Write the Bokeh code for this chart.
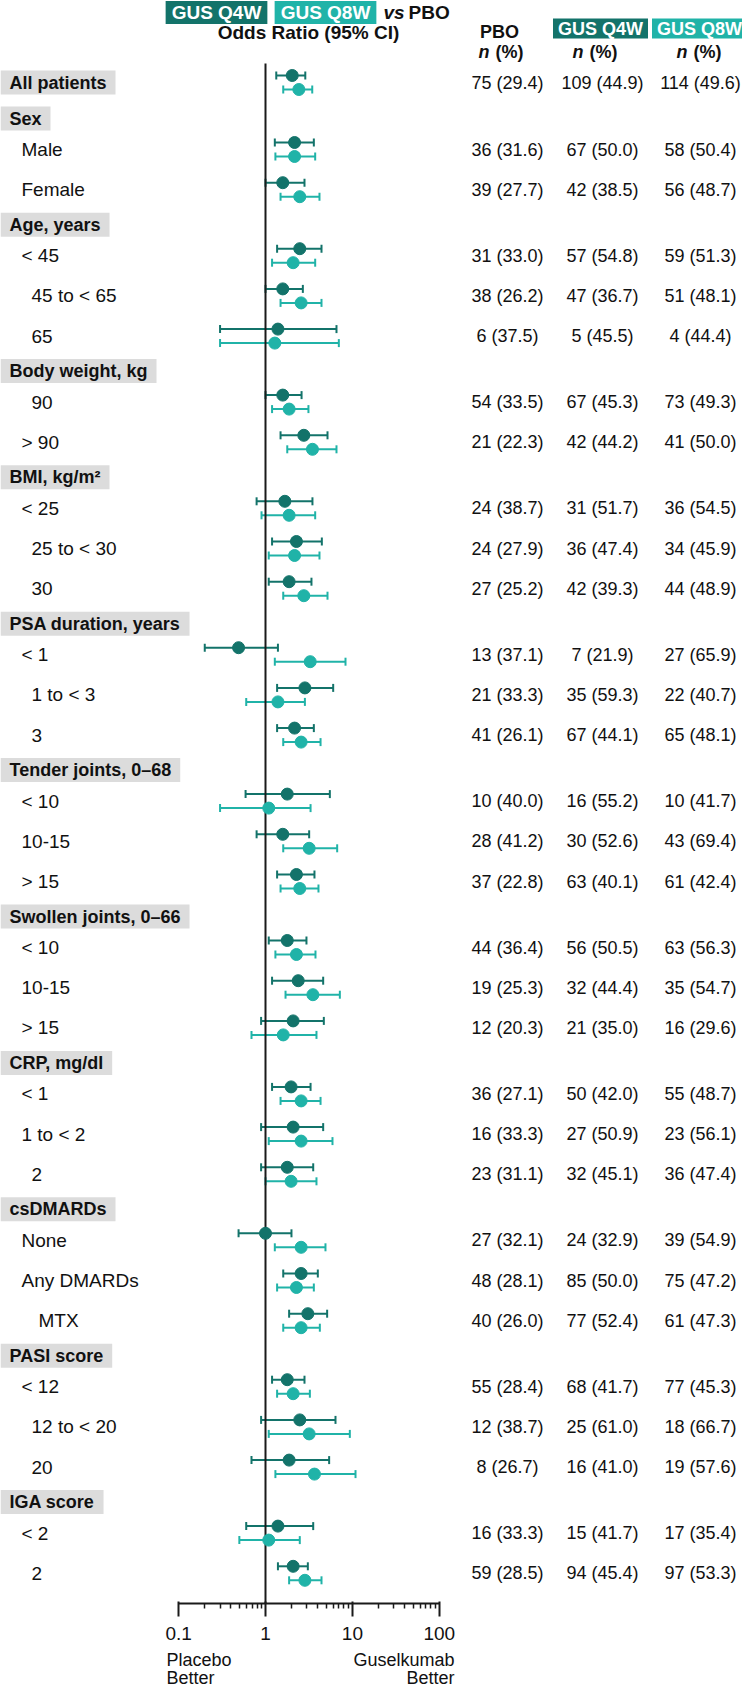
from bokeh.plotting import figure
from bokeh.models import (ColumnDataSource, Range1d, LogScale, LogAxis, FixedTicker,
                          CustomJSTickFormatter, Whisker, TeeHead)
from bokeh.core.properties import value
from bokeh.embed import file_html
from bokeh.resources import INLINE

# ---------------- data ----------------
row_labels = ["All patients", "Sex", "Male", "Female", "Age, years", "< 45", "45 to < 65", "65",
              "Body weight, kg", "90", "> 90", "BMI, kg/m²", "< 25", "25 to < 30", "30",
              "PSA duration, years", "< 1", "1 to < 3", "3", "Tender joints, 0–68", "< 10", "10-15", "> 15",
              "Swollen joints, 0–66", "< 10", "10-15", "> 15", "CRP, mg/dl", "< 1", "1 to < 2", "2",
              "csDMARDs", "None", "Any DMARDs", "MTX", "PASI score", "< 12", "12 to < 20", "20",
              "IGA score", "< 2", "2"]
# A = overall (header with data), H = group header, S = subgroup
row_kind = ["A", "H", "S", "S", "H", "S", "S", "S", "H", "S", "S", "H", "S", "S", "S",
            "H", "S", "S", "S", "H", "S", "S", "S", "H", "S", "S", "S", "H", "S", "S", "S",
            "H", "S", "S", "S", "H", "S", "S", "S", "H", "S", "S"]
row_indent = [0, 0, 1, 1, 0, 1, 2, 2, 0, 2, 1, 0, 1, 2, 2, 0, 1, 2, 2, 0, 1, 1, 1,
              0, 1, 1, 1, 0, 1, 1, 2, 0, 1, 1, 3, 0, 1, 2, 2, 0, 1, 2]

q4w_or = [2.03, 2.16, 1.58, 2.48, 1.58, 1.39, 1.58, 2.76, 1.67, 2.27, 1.87, 0.49, 2.84, 2.16,
          1.78, 1.58, 2.27, 1.78, 2.38, 2.08, 1.97, 2.08, 1.78, 1.00, 2.57, 3.07, 1.78, 2.48, 1.87, 1.39, 2.08]
q4w_lo = [1.33, 1.28, 1.00, 1.36, 1.00, 0.30, 1.00, 1.49, 0.79, 1.19, 1.09, 0.20, 1.36, 1.36,
          0.59, 0.79, 1.36, 1.09, 1.19, 0.89, 1.19, 0.89, 0.89, 0.49, 1.60, 1.87, 1.19, 0.89, 0.69, 0.60, 1.39]
q4w_hi = [2.87, 3.60, 2.81, 4.41, 2.69, 6.56, 2.60, 5.17, 3.47, 4.45, 3.38, 1.39, 6.01, 3.60,
          5.50, 3.18, 3.66, 2.96, 4.61, 4.69, 3.30, 4.61, 3.54, 1.99, 4.00, 5.12, 2.81, 6.39, 5.40, 3.54, 3.07]
q8w_or = [2.42, 2.16, 2.48, 2.08, 2.57, 1.28, 1.87, 3.47, 1.87, 2.16, 2.76, 3.27, 1.39, 2.57,
          1.09, 3.18, 2.48, 2.27, 3.51, 1.60, 2.57, 2.57, 1.97, 2.57, 2.27, 2.57, 2.08, 3.18, 3.66, 1.09, 2.84]
q8w_lo = [1.60, 1.30, 1.49, 1.19, 1.49, 0.30, 1.19, 1.78, 0.90, 1.09, 1.60, 1.28, 0.60, 1.60,
          0.30, 1.60, 1.49, 1.30, 1.70, 0.69, 1.49, 1.09, 1.00, 1.28, 1.36, 1.60, 1.36, 1.09, 1.30, 0.50, 1.87]
q8w_hi = [3.45, 3.73, 4.18, 3.73, 4.41, 6.98, 3.12, 6.56, 3.73, 4.18, 5.17, 8.33, 2.84, 4.30,
          3.30, 6.68, 4.07, 3.76, 7.17, 3.86, 4.30, 5.90, 3.86, 4.90, 3.60, 4.22, 3.24, 9.34, 10.86, 2.48, 4.41]

pbo_n = [75, 36, 39, 31, 38, 6, 54, 21, 24, 24, 27, 13, 21, 41, 10, 28, 37, 44, 19, 12, 36, 16, 23, 27, 48, 40, 55, 12, 8, 16, 59]
pbo_pct = [29.4, 31.6, 27.7, 33.0, 26.2, 37.5, 33.5, 22.3, 38.7, 27.9, 25.2, 37.1, 33.3, 26.1, 40.0, 41.2, 22.8,
           36.4, 25.3, 20.3, 27.1, 33.3, 31.1, 32.1, 28.1, 26.0, 28.4, 38.7, 26.7, 33.3, 28.5]
q4w_n = [109, 67, 42, 57, 47, 5, 67, 42, 31, 36, 42, 7, 35, 67, 16, 30, 63, 56, 32, 21, 50, 27, 32, 24, 85, 77, 68, 25, 16, 15, 94]
q4w_pct = [44.9, 50.0, 38.5, 54.8, 36.7, 45.5, 45.3, 44.2, 51.7, 47.4, 39.3, 21.9, 59.3, 44.1, 55.2, 52.6, 40.1,
           50.5, 44.4, 35.0, 42.0, 50.9, 45.1, 32.9, 50.0, 52.4, 41.7, 61.0, 41.0, 41.7, 45.4]
q8w_n = [114, 58, 56, 59, 51, 4, 73, 41, 36, 34, 44, 27, 22, 65, 10, 43, 61, 63, 35, 16, 55, 23, 36, 39, 75, 61, 77, 18, 19, 17, 97]
q8w_pct = [49.6, 50.4, 48.7, 51.3, 48.1, 44.4, 49.3, 50.0, 54.5, 45.9, 48.9, 65.9, 40.7, 48.1, 41.7, 69.4, 42.4,
           56.3, 54.7, 29.6, 48.7, 56.1, 47.4, 54.9, 47.2, 47.3, 45.3, 66.7, 57.6, 35.4, 53.3]

axis_ticks = [0.1, 1, 10, 100]

# ---------------- styles ----------------
C4 = "#13736a"
C8 = "#20b3a8"
GREY = "#dcdcdc"
INK = "#111111"
FONT = value("Liberation Sans")
W, H = 742, 1687
AXIS_Y = 1603
X1 = 265.0      # screen x of OR = 1
DEC = 86.9      # pixels per decade

# ---------------- layout of rows ----------------
ys = []
y = 82.0
prev = None
for k in row_kind:
    if prev is not None:
        if prev in "HA" and k in "HA":
            y += 36
        elif prev in "HA":
            y += 31
        elif k == "S":
            y += 40.2
        else:
            y += 35
    ys.append(y)
    prev = k

indent_x = {0: 0, 1: 21, 2: 31, 3: 38}
hdr = dict(x=[], y=[], t=[])
sub = dict(x=[], y=[], t=[])
data_y = []
for lab, k, ind, yy in zip(row_labels, row_kind, row_indent, ys):
    if k in "HA":
        hdr["x"].append(indent_x[ind]); hdr["y"].append(yy); hdr["t"].append(lab)
    else:
        sub["x"].append(indent_x[ind]); sub["y"].append(yy); sub["t"].append(lab)
    if k in "AS":
        data_y.append(yy)

p = figure(width=W, height=H, output_backend="svg", toolbar_location=None,
           x_range=Range1d(0, W), y_range=Range1d(H, 0),
           x_axis_location=None, y_axis_location=None, min_border=0)
p.outline_line_color = None
p.xgrid.visible = False
p.ygrid.visible = False
p.background_fill_color = "white"
p.border_fill_color = "white"

p.extra_x_ranges = {"or": Range1d(10 ** (-X1 / DEC), 10 ** ((W - X1) / DEC))}
p.extra_x_scales = {"or": LogScale()}

# axis drawn inside the frame at a fixed location
minor = [m * 10.0 ** e for e in (-1, 0, 1) for m in range(2, 10)]
ax = LogAxis(x_range_name="or", ticker=FixedTicker(ticks=axis_ticks, minor_ticks=minor),
             formatter=CustomJSTickFormatter(code="return String(tick);"),
             bounds=(0.1, 100), fixed_location=AXIS_Y)
ax.axis_line_width = 2
ax.axis_line_color = "#1a1a1a"
ax.major_tick_line_width = 2
ax.major_tick_line_color = "#1a1a1a"
ax.major_tick_out = 13
ax.major_tick_in = 2
ax.minor_tick_out = 5
ax.minor_tick_in = 0
ax.minor_tick_line_width = 1.5
ax.minor_tick_line_color = "#1a1a1a"
ax.major_label_text_font = "Liberation Sans"
ax.major_label_text_font_size = "19px"
ax.major_label_text_color = INK
ax.major_label_standoff = 10
p.add_layout(ax, "below")

# reference line at OR = 1
p.segment(x0=[1], x1=[1], y0=[63], y1=[AXIS_Y], x_range_name="or",
          line_color="#1a1a1a", line_width=2)

# group header labels with grey boxes
p.text(x="x", y="y", text="t", source=ColumnDataSource(hdr), text_font=FONT,
       text_font_style="bold", text_font_size="18px", text_color=INK,
       text_baseline="middle", text_align="left",
       background_fill_color=GREY, padding=dict(left=9, right=9, top=2, bottom=2))
# subgroup labels
p.text(x="x", y="y", text="t", source=ColumnDataSource(sub), text_font=FONT,
       text_font_size="19px", text_color=INK, text_baseline="middle", text_align="left")

# forest data
src4 = ColumnDataSource(dict(y=[v - 7 for v in data_y], est=q4w_or, lo=q4w_lo, hi=q4w_hi))
src8 = ColumnDataSource(dict(y=[v + 7 for v in data_y], est=q8w_or, lo=q8w_lo, hi=q8w_hi))
for src, col in ((src4, C4), (src8, C8)):
    wk = Whisker(source=src, base="y", lower="lo", upper="hi", dimension="width",
                 x_range_name="or", line_color=col, line_width=2,
                 lower_head=TeeHead(size=8, line_color=col, line_width=2),
                 upper_head=TeeHead(size=8, line_color=col, line_width=2))
    p.add_layout(wk)
    p.scatter(x="est", y="y", source=src, x_range_name="or", size=12,
              fill_color=col, line_color=col)

# table
col_x = [507, 602, 700]
tbl = dict(y=data_y,
           pbo=[f"{n} ({v:.1f})" for n, v in zip(pbo_n, pbo_pct)],
           q4=[f"{n} ({v:.1f})" for n, v in zip(q4w_n, q4w_pct)],
           q8=[f"{n} ({v:.1f})" for n, v in zip(q8w_n, q8w_pct)])
tsrc = ColumnDataSource(tbl)
for cx, field in zip(col_x, ["pbo", "q4", "q8"]):
    p.text(x=cx, y="y", text=field, source=tsrc, text_font=FONT, text_font_size="18px",
           text_color=INK, text_baseline="middle", text_align="center")

# top header (forest)
p.text(x=[216], y=[12], text=["GUS Q4W"], text_font=FONT, text_font_style="bold",
       text_font_size="19px", text_color="white", text_align="center", text_baseline="middle",
       background_fill_color=C4, padding=dict(left=6, right=6, top=1, bottom=1))
p.text(x=[325], y=[12], text=["GUS Q8W"], text_font=FONT, text_font_style="bold",
       text_font_size="19px", text_color="white", text_align="center", text_baseline="middle",
       background_fill_color=C8, padding=dict(left=6, right=6, top=1, bottom=1))
p.text(x=[383], y=[12], text=["vs"], text_font=FONT, text_font_style="bold italic",
       text_font_size="19px", text_color=INK, text_baseline="middle")
p.text(x=[408], y=[12], text=["PBO"], text_font=FONT, text_font_style="bold",
       text_font_size="19px", text_color=INK, text_baseline="middle")
p.text(x=[308], y=[32], text=["Odds Ratio (95% CI)"], text_font=FONT, text_font_style="bold",
       text_font_size="19px", text_color=INK, text_baseline="middle", text_align="center")

# table headers
p.text(x=[499], y=[31], text=["PBO"], text_font=FONT, text_font_style="bold",
       text_font_size="18px", text_color=INK, text_baseline="middle", text_align="center")
p.text(x=[600], y=[28], text=["GUS Q4W"], text_font=FONT, text_font_style="bold",
       text_font_size="18px", text_color="white", text_align="center", text_baseline="middle",
       background_fill_color=C4, padding=dict(left=5, right=5, top=0, bottom=0))
p.text(x=[699], y=[28], text=["GUS Q8W"], text_font=FONT, text_font_style="bold",
       text_font_size="18px", text_color="white", text_align="center", text_baseline="middle",
       background_fill_color=C8, padding=dict(left=5, right=5, top=0, bottom=0))
for c in (503, 597, 701):
    p.text(x=[c - 25], y=[51], text=["n"], text_font=FONT, text_font_style="bold italic",
           text_font_size="18px", text_color=INK, text_baseline="middle")
    p.text(x=[c - 8], y=[51], text=["(%)"], text_font=FONT, text_font_style="bold",
           text_font_size="18px", text_color=INK, text_baseline="middle")

# direction labels
p.text(x=[166, 166], y=[1659, 1677], text=["Placebo", "Better"], text_font=FONT,
       text_font_size="18px", text_color=INK, text_baseline="middle", text_align="left")
p.text(x=[454, 454], y=[1659, 1677], text=["Guselkumab", "Better"], text_font=FONT,
       text_font_size="18px", text_color=INK, text_baseline="middle", text_align="right")

open("out.html", "w").write(file_html(p, INLINE))
